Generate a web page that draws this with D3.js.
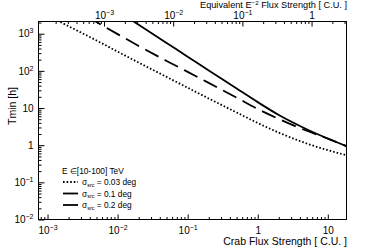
<!DOCTYPE html>
<html>
<head>
<meta charset="utf-8">
<script src="https://cdn.jsdelivr.net/npm/d3@7"></script>
<style>
  body { margin: 0; background: #fff; }
  svg text { font-family: "Liberation Sans", Arial, Helvetica, sans-serif; fill: #000; }
</style>
</head>
<body>
<svg id="chart"></svg>
<script>
// ── Data ─────────────────────────────────────────────────────────────────────
const flux   = [0.001, 0.002, 0.005, 0.01, 0.02, 0.05, 0.1, 0.2, 0.5, 1, 2, 5, 10, 18.5];
const tS003  = [3080, 1585, 658, 330, 167, 68.7, 35.2, 18.0, 7.59, 3.95, 2.18, 1.11, 0.733, 0.54];
const tS01   = [null, 5520, 2055, 975, 469, 185, 94.2, 47.5, 19.0, 9.44, 5.08, 2.44, 1.50, 0.94];
const tS02   = [null, null, null, 4070, 1740, 564, 240, 103, 33.5, 14.4, 6.49, 2.69, 1.51, 0.94];

const seriesNames = ['\u03c3_src = 0.03 deg', '\u03c3_src = 0.1 deg', '\u03c3_src = 0.2 deg'];
const seriesVals  = [tS003, tS01, tS02];
const seriesDash  = ['1.6 2', '15 7', null];

const xMajor    = [1e-3, 1e-2, 1e-1, 1, 10];
const xTopMajor = [1e-3, 1e-2, 1e-1, 1];
const yMajor    = [1e-2, 1e-1, 1, 10, 1e2, 1e3];

const xDomain    = [7.43e-4, 18.5];
const xTopDomain = [1.13e-4, 3.2];
const yDomain    = [0.01, 2130];

// ── Layout ───────────────────────────────────────────────────────────────────
const W = 386, H = 248;
const F = { left: 38.5, right: 346.5, top: 21.5, bottom: 219.5 };

const svg = d3.select('#chart').attr('width', W).attr('height', H);

const x    = d3.scaleLog().domain(xDomain).range([F.left, F.right]);
const xTop = d3.scaleLog().domain(xTopDomain).range([F.left, F.right]);
const y    = d3.scaleLog().domain(yDomain).range([F.bottom, F.top]);

function minorTicks(scale) {
    const [a, b] = scale.domain();
    const out = [];
    for (let e = Math.floor(Math.log10(a)); e <= Math.ceil(Math.log10(b)); e++)
        for (let m = 2; m <= 9; m++) {
            const v = m * Math.pow(10, e);
            if (v >= a && v <= b) out.push(v);
        }
    return out;
}

function powLabel(v) {
    const t = d3.select(this);
    const e = Math.round(Math.log10(v));
    t.text(null);
    if (e === 0) { t.text('1'); return; }
    if (e === 1) { t.text('10'); return; }
    t.append('tspan').text('10');
    t.append('tspan').attr('dy', -4).attr('font-size', 7)
        .text(e < 0 ? '\u2212' + (-e) : String(e));
}

const labelSize = 10;

// ── Axes ─────────────────────────────────────────────────────────────────────
function styleAxis(g) {
    g.select('.domain').remove();
    g.selectAll('line').attr('stroke', '#000').attr('stroke-width', 1);
    g.selectAll('text').attr('font-size', labelSize).attr('font-family', null).attr('fill', '#000');
}

// bottom
svg.append('g').attr('transform', `translate(0,${F.bottom})`)
    .call(d3.axisBottom(x).tickValues(minorTicks(x)).tickSize(-2.5).tickFormat(''))
    .call(styleAxis);
svg.append('g').attr('transform', `translate(0,${F.bottom})`)
    .call(d3.axisBottom(x).tickValues(xMajor).tickSize(-5).tickPadding(7))
    .call(styleAxis)
    .selectAll('text').each(powLabel);

// top
svg.append('g').attr('transform', `translate(0,${F.top})`)
    .call(d3.axisTop(xTop).tickValues(minorTicks(xTop)).tickSize(-2.5).tickFormat(''))
    .call(styleAxis);
svg.append('g').attr('transform', `translate(0,${F.top})`)
    .call(d3.axisTop(xTop).tickValues(xTopMajor).tickSize(-5).tickPadding(2.5))
    .call(styleAxis)
    .selectAll('text').each(powLabel);

// left
svg.append('g').attr('transform', `translate(${F.left},0)`)
    .call(d3.axisLeft(y).tickValues(minorTicks(y)).tickSize(-3).tickFormat(''))
    .call(styleAxis);
svg.append('g').attr('transform', `translate(${F.left},0)`)
    .call(d3.axisLeft(y).tickValues(yMajor).tickSize(-6).tickPadding(5))
    .call(styleAxis)
    .selectAll('text').each(powLabel);

// frame
svg.append('rect')
    .attr('x', F.left).attr('y', F.top)
    .attr('width', F.right - F.left).attr('height', F.bottom - F.top)
    .attr('fill', 'none').attr('stroke', '#000').attr('stroke-width', 1);

// ── Curves ───────────────────────────────────────────────────────────────────
svg.append('clipPath').attr('id', 'plot-clip')
    .append('rect')
    .attr('x', F.left).attr('y', F.top)
    .attr('width', F.right - F.left).attr('height', F.bottom - F.top);

const line = d3.line()
    .defined(d => d[1] != null)
    .x(d => x(d[0]))
    .y(d => y(d[1]))
    .curve(d3.curveMonotoneX);

const gCurves = svg.append('g').attr('clip-path', 'url(#plot-clip)');
seriesVals.forEach((vals, i) => {
    gCurves.append('path')
        .datum(flux.map((f, k) => [f, vals[k]]))
        .attr('d', line)
        .attr('fill', 'none')
        .attr('stroke', '#000')
        .attr('stroke-width', 1.8)
        .attr('stroke-dasharray', seriesDash[i]);
});

// ── Titles ───────────────────────────────────────────────────────────────────
svg.append('text')
    .attr('x', 347).attr('y', 244.5)
    .attr('text-anchor', 'end').attr('font-size', 10.5)
    .text('Crab Flux Strength [ C.U. ]');

const topTitle = svg.append('text')
    .attr('x', 347).attr('y', 8)
    .attr('text-anchor', 'end').attr('font-size', 9.2);
topTitle.append('tspan').text('Equivalent E');
topTitle.append('tspan').attr('dy', -3.5).attr('font-size', 6.2).text('\u22122');
topTitle.append('tspan').attr('dy', 3.5).text(' Flux Strength [ C.U. ]');

svg.append('text')
    .attr('transform', 'translate(15.5,106) rotate(-90)')
    .attr('text-anchor', 'middle').attr('font-size', 10.5)
    .text('Tmin [h]');

// ── Legend ───────────────────────────────────────────────────────────────────
const legend = svg.append('g');
legend.append('text')
    .attr('x', 62).attr('y', 174)
    .attr('font-size', 8.3)
    .text('E \u2208[10-100] TeV');

seriesNames.forEach((name, i) => {
    const cy = 182 + i * 11.5;
    legend.append('line')
        .attr('x1', 63).attr('x2', 78).attr('y1', cy).attr('y2', cy)
        .attr('stroke', '#000').attr('stroke-width', 1.8)
        .attr('stroke-dasharray', seriesDash[i]);
    const parts = name.split('_');
    const rest = parts[1].split(' ');
    const t = legend.append('text')
        .attr('x', 82).attr('y', cy + 3)
        .attr('font-size', 8.3);
    t.append('tspan').text(parts[0]);
    t.append('tspan').attr('dy', 1.8).attr('font-size', 5.5).text(rest[0]);
    t.append('tspan').attr('dy', -1.8).text(' ' + rest.slice(1).join(' '));
});
</script>
</body>
</html>
